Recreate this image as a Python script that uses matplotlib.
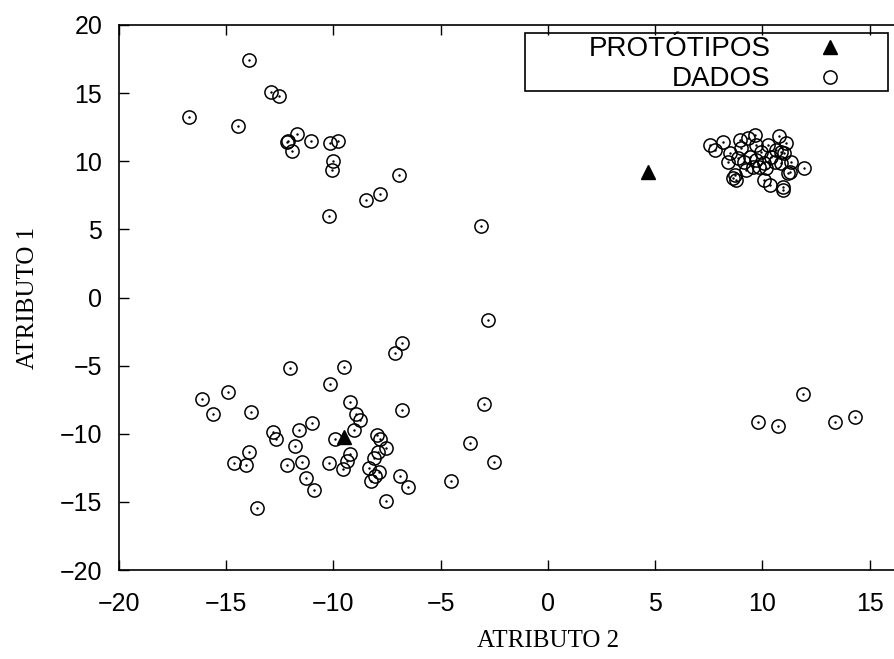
import matplotlib
matplotlib.use('Agg')
import matplotlib.pyplot as plt
from matplotlib.patches import Rectangle

# dados (atributo 2 = x, atributo 1 = y)
dados_x = [
    # grupo superior esquerdo
    -13.94, -12.90, -12.54, -16.73, -14.45, -12.11, -12.18, -11.71, -11.92, -11.07,
    -10.14, -9.77, -10.00, -10.09, -6.93, -8.47, -7.81, -10.23, -3.12,
    # grupo superior direito
    7.57, 8.15, 7.77, 9.63, 10.76, 11.10, 8.93, 9.32, 8.47, 8.39,
    9.01, 9.71, 10.25, 9.94, 9.40, 9.71, 10.09, 10.40, 10.87, 11.02,
    10.87, 11.33, 11.95, 11.26, 11.18, 9.24, 8.70, 8.62, 8.78, 10.09,
    10.33, 10.94, 10.94, 9.55, 9.16, 9.86, 10.17, 8.85, 10.56, 10.64,
    # grupo inferior esquerdo
    -12.03, -9.52, -10.17, -14.90, -16.14, -15.64, -13.86, -10.99, -11.60, -12.82,
    -12.67, -11.81, -9.91, -13.94, -14.62, -14.06, -12.19, -11.49, -10.20, -9.55,
    -9.36, -9.21, -11.26, -10.93, -6.79, -7.13, -9.21, -8.94, -8.78, -9.06,
    -7.97, -7.81, -7.55, -7.92, -8.13, -8.36, -7.89, -8.05, -8.23, -6.88,
    -6.54, -6.80, -7.53, -13.58, -4.54, -3.63, -2.98, -2.51, -2.82,
    # grupo inferior direito
    11.91, 9.81, 10.71, 13.40, 14.29,
]
dados_y = [
    17.42, 15.10, 14.78, 13.26, 12.60, 11.48, 11.40, 12.00, 10.75, 11.48,
    11.33, 11.48, 10.00, 9.35, 8.99, 7.15, 7.59, 5.98, 5.25,
    11.19, 11.43, 10.82, 11.92, 11.85, 11.36, 11.56, 11.68, 10.58, 9.96,
    10.95, 11.19, 11.19, 10.70, 10.33, 10.09, 9.85, 10.33, 10.70, 10.58,
    9.85, 9.96, 9.48, 9.23, 9.11, 9.35, 8.99, 8.75, 8.62, 8.62,
    8.25, 8.13, 7.89, 9.60, 9.96, 9.60, 9.48, 10.21, 9.96, 10.82,
    -5.19, -5.12, -6.37, -6.96, -7.45, -8.57, -8.42, -9.19, -9.72, -9.87,
    -10.36, -10.90, -10.36, -11.36, -12.16, -12.29, -12.31, -12.09, -12.16, -12.58,
    -12.00, -11.48, -13.26, -14.15, -3.36, -4.09, -7.69, -8.57, -8.99, -9.72,
    -10.09, -10.38, -11.02, -11.36, -11.80, -12.49, -12.78, -13.10, -13.46, -13.07,
    -13.88, -8.25, -14.91, -15.44, -13.44, -10.65, -7.84, -12.09, -1.65,
    -7.08, -9.13, -9.43, -9.13, -8.77,
]

prot_x = [4.65, -9.50]
prot_y = [9.20, -10.25]

xticks = [-20, -15, -10, -5, 0, 5, 10, 15]
yticks = [-20, -15, -10, -5, 0, 5, 10, 15, 20]

plt.rcParams['font.family'] = ['Liberation Sans', 'DejaVu Sans']

fig = plt.figure(figsize=(8.95, 6.59), dpi=100)
ax = fig.add_axes([119 / 895, (659 - 570) / 659, 858 / 895, 545 / 659])

ax.plot(prot_x, prot_y, '^', color='black', markersize=10, label='PROTÓTIPOS', zorder=3)
ax.plot(dados_x, dados_y, 'o', mfc='none', mec='black', mew=1.1, markersize=9.5, label='DADOS')
ax.plot(dados_x, dados_y, '.', color='black', markersize=1.5)

ax.set_xlim(-20, 20)
ax.set_ylim(-20, 20)
ax.set_xticks(xticks)
ax.set_yticks(yticks)
ax.tick_params(direction='in', length=7, width=1, top=True, right=True, labelsize=18)
ax.tick_params(axis='x', pad=16)
ax.tick_params(axis='y', pad=12)
for s in ax.spines.values():
    s.set_linewidth(1.2)

ax.set_xlabel('ATRIBUTO 2', fontsize=18, family='Liberation Serif', labelpad=10)
ax.set_ylabel('ATRIBUTO 1', fontsize=18, family='Liberation Serif', labelpad=15)

# legenda no estilo gnuplot: texto alinhado a direita, simbolo depois
h, l = ax.get_legend_handles_labels()
leg = ax.legend(h[:2], l[:2], loc='upper right', bbox_to_anchor=(888 / 895, 1 - 33 / 659),
                bbox_transform=fig.transFigure, markerfirst=False, frameon=False,
                fontsize=20, handlelength=3.9, handletextpad=0.2, borderpad=0.12,
                labelspacing=0.15, borderaxespad=0)
fig.patches.append(Rectangle((525 / 895, 1 - 91 / 659), 363 / 895, 58 / 659,
                             transform=fig.transFigure, fill=False,
                             edgecolor='black', linewidth=1.2))

fig.savefig('out.png', dpi=100)
